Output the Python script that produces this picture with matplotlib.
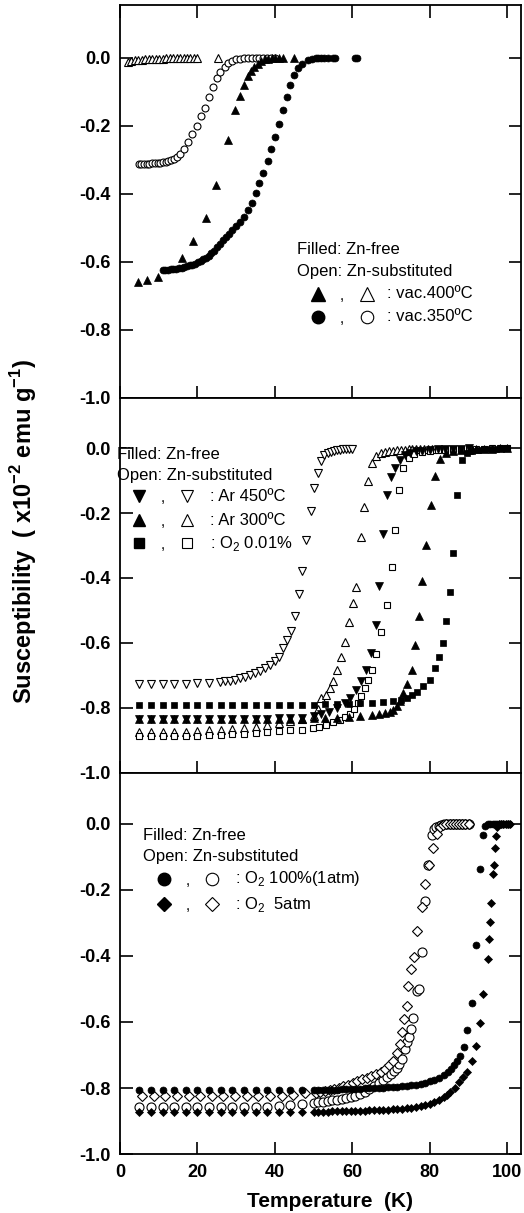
import matplotlib
matplotlib.use("Agg")
import matplotlib.pyplot as plt

plt.rcParams['font.family'] = ['Liberation Sans', 'DejaVu Sans']
plt.rcParams['mathtext.fontset'] = 'custom'
plt.rcParams['mathtext.rm'] = 'Liberation Sans'
plt.rcParams['mathtext.bf'] = 'Liberation Sans:bold'
plt.rcParams['axes.unicode_minus'] = False

# ---------------- top panel: vacuum annealed ----------------
t_tri_open_400 = [2.0, 2.9, 3.8, 4.7, 5.6, 6.5, 7.4, 8.3, 9.2, 10.1, 11.0, 11.9, 12.8, 13.7,
                  14.6, 15.5, 16.4, 17.3, 18.2, 19.1, 20.0, 25.2]
v_tri_open_400 = [-0.012, -0.010, -0.008, -0.007, -0.006, -0.005, -0.004, -0.004, -0.003, -0.003,
                  -0.003, -0.002, -0.002, -0.002, -0.002, -0.001, -0.001, -0.001, -0.001, -0.001,
                  -0.001, 0.0]

t_circ_open_350 = [4.8, 5.5, 6.2, 6.9, 7.6, 8.3, 9.0, 9.7, 10.4, 11.1, 11.8, 12.5, 13.2, 13.9, 14.6,
                   15.5, 16.5, 17.6, 18.7, 19.8, 20.9, 22.0, 23.0, 24.0, 25.0, 25.9, 27.0, 28.0, 29.0,
                   30.0, 31.0, 32.0, 33.0, 34.0, 35.0, 36.0, 37.0, 38.0, 39.0, 40.0]
v_circ_open_350 = [-0.313, -0.313, -0.313, -0.312, -0.312, -0.311, -0.311, -0.310, -0.309, -0.308,
                   -0.306, -0.304, -0.301, -0.297, -0.292, -0.284, -0.268, -0.248, -0.225, -0.200,
                   -0.172, -0.148, -0.115, -0.086, -0.060, -0.042, -0.027, -0.016, -0.009, -0.005,
                   -0.003, -0.002, -0.001, -0.001, -0.001, 0.0, 0.0, 0.0, 0.0, 0.0]

t_tri_fill_400 = [4.7, 7.0, 9.9, 16.0, 18.8, 22.1, 24.9, 27.8, 29.8, 30.9, 31.9, 33.0, 33.8, 34.7,
                  35.6, 36.5, 37.4, 38.3, 39.2, 40.1, 41.0, 42.0, 45.0]
v_tri_fill_400 = [-0.660, -0.653, -0.645, -0.590, -0.540, -0.470, -0.373, -0.241, -0.153, -0.112,
                  -0.080, -0.053, -0.040, -0.028, -0.018, -0.010, -0.005, -0.003, -0.001, 0.0,
                  0.0, 0.0, 0.0]

t_circ_fill_350 = [11.0, 11.7, 12.4, 13.1, 13.8, 14.5, 15.2, 15.9, 16.6, 17.3, 18.0, 18.7, 19.4,
                   20.1, 20.8, 21.5, 22.2, 22.9, 23.6, 24.3, 25.0, 25.8, 26.6, 27.4, 28.2, 29.0,
                   29.9, 30.9, 31.9, 33.0, 34.0, 35.0, 36.0, 37.0, 38.2, 39.1, 40.1, 41.0, 42.0,
                   43.0, 44.0, 45.0, 46.0, 47.0, 48.5, 49.7, 50.5, 51.2, 52.0, 52.8, 53.6, 55.0,
                   55.5, 60.8, 61.3]
v_circ_fill_350 = [-0.625, -0.624, -0.623, -0.622, -0.621, -0.620, -0.619, -0.617, -0.615, -0.613,
                   -0.611, -0.609, -0.606, -0.602, -0.598, -0.593, -0.588, -0.582, -0.575, -0.567,
                   -0.558, -0.548, -0.537, -0.528, -0.518, -0.508, -0.496, -0.484, -0.468, -0.449,
                   -0.427, -0.398, -0.369, -0.340, -0.305, -0.270, -0.232, -0.194, -0.153, -0.115,
                   -0.082, -0.050, -0.030, -0.018, -0.008, -0.003, -0.001, 0.0, 0.0, 0.0, 0.0, 0.0,
                   0.0, 0.0, 0.0]

# ---------------- middle panel: Ar / low O2 ----------------
t_plateau = [5, 8, 11, 14, 17, 20, 23, 26, 29, 32, 35, 38, 41, 44, 47]

t_dtri_open_450 = [5, 8, 11, 14, 17, 20, 23, 25.8, 27.1, 28.4, 29.7, 30.9, 32.2, 33.5, 34.8, 36.1,
                   37.4, 38.7, 39.9, 41.1, 42.1, 43.1, 44.1, 45.1, 46.2, 47.1, 48.1, 49.2, 50.1,
                   51.1, 52.0, 52.8, 53.6, 54.4, 55.2, 56.0, 56.8, 57.6, 58.4, 59.2, 60.0]
v_dtri_open_450 = [-0.727, -0.727, -0.726, -0.726, -0.726, -0.725, -0.724, -0.722, -0.719, -0.716,
                   -0.713, -0.709, -0.704, -0.699, -0.693, -0.686, -0.678, -0.668, -0.655, -0.642,
                   -0.616, -0.591, -0.563, -0.517, -0.450, -0.378, -0.283, -0.193, -0.124, -0.078,
                   -0.040, -0.022, -0.015, -0.011, -0.008, -0.006, -0.005, -0.004, -0.003, -0.002,
                   -0.002]

t_tri_open_300 = t_plateau + [50.0, 51.0, 52.0, 53.3, 54.1, 55.1, 56.0, 57.0, 58.2, 59.1, 60.1,
                              61.0, 62.1, 63.1, 64.0, 65.1, 66.1, 67.4, 68.5, 69.5, 70.5, 71.5,
                              72.5, 73.5, 74.5, 75.5, 76.5, 77.5, 78.5, 79.5, 80.5]
v_tri_open_300 = [-0.876, -0.876, -0.876, -0.875, -0.874, -0.872, -0.870, -0.868, -0.866, -0.862,
                  -0.858, -0.853, -0.848, -0.842, -0.836,
                  -0.825, -0.805, -0.770, -0.760, -0.739, -0.716, -0.683, -0.644, -0.597, -0.537,
                  -0.478, -0.429, -0.273, -0.180, -0.100, -0.047, -0.025, -0.015, -0.012, -0.010,
                  -0.008, -0.007, -0.006, -0.005, -0.004, -0.004, -0.003, -0.003, -0.002, -0.002,
                  -0.002]

t_sq_open = t_plateau + [49.8, 51.5, 53.3, 55.0, 56.7, 58.0, 59.3, 60.5, 61.5, 62.3, 63.2, 64.1,
                         65.0, 66.1, 67.3, 69.0, 70.2, 71.0, 72.1, 73.1, 74.5, 76.0, 78.0, 80.0,
                         82.0, 84.0, 86.0, 88.0, 90.0, 92.0, 94.0, 96.0, 98.0, 100.0]
v_sq_open = [-0.888, -0.888, -0.888, -0.888, -0.888, -0.887, -0.885, -0.884, -0.882, -0.880,
             -0.877, -0.875, -0.872, -0.870, -0.867,
             -0.863, -0.858, -0.852, -0.845, -0.837, -0.828, -0.818, -0.805, -0.785, -0.765,
             -0.739, -0.714, -0.683, -0.635, -0.565, -0.483, -0.365, -0.252, -0.129, -0.060,
             -0.030, -0.018, -0.012, -0.008, -0.006, -0.005, -0.004, -0.003, -0.003, -0.002,
             -0.002, -0.001, -0.001, -0.001]

t_dtri_fill_450 = t_plateau + [50.0, 52.0, 54.0, 56.0, 58.0, 59.5, 61.0, 62.3, 63.6, 64.9, 66.0,
                               67.0, 67.9, 69.0, 70.1, 71.0, 72.3, 73.6, 75.0, 76.5, 78.0, 80.0,
                               82.0, 84.0, 86.0, 88.0, 90.0]
v_dtri_fill_450 = [-0.834, -0.834, -0.834, -0.834, -0.834, -0.834, -0.834, -0.834, -0.834, -0.834,
                   -0.834, -0.834, -0.833, -0.832, -0.830,
                   -0.826, -0.820, -0.812, -0.800, -0.785, -0.770, -0.745, -0.719, -0.683, -0.632,
                   -0.545, -0.425, -0.263, -0.145, -0.088, -0.060, -0.035, -0.022, -0.015, -0.010,
                   -0.008, -0.006, -0.004, -0.003, -0.002, -0.002, -0.001]

t_tri_fill_300 = t_plateau + [50.0, 53.0, 56.0, 59.0, 62.0, 65.0, 67.0, 68.5, 69.7, 70.6, 71.5,
                              72.3, 73.1, 74.2, 75.3, 76.2, 77.3, 78.1, 79.1, 80.3, 81.3, 82.6,
                              84.3, 86.0, 88.0, 90.0, 92.0, 94.0, 96.0, 98.0, 100.0]
v_tri_fill_300 = [-0.834, -0.834, -0.834, -0.834, -0.834, -0.834, -0.834, -0.834, -0.834, -0.834,
                  -0.834, -0.834, -0.834, -0.834, -0.834,
                  -0.833, -0.832, -0.830, -0.828, -0.826, -0.823, -0.820, -0.816, -0.812, -0.806,
                  -0.795, -0.778, -0.755, -0.727, -0.683, -0.606, -0.517, -0.408, -0.298, -0.175,
                  -0.086, -0.032, -0.015, -0.010, -0.007, -0.005, -0.004, -0.003, -0.002, -0.001,
                  -0.001]

t_sq_fill = t_plateau + [50.0, 53.0, 56.0, 59.0, 62.0, 65.0, 68.0, 70.6, 72.5, 74.0, 75.3, 76.6,
                         78.3, 80.0, 81.3, 82.4, 83.3, 84.3, 85.2, 86.0, 87.1, 88.2, 89.5, 91.0,
                         92.5, 94.0, 95.5, 97.0, 98.5, 100.0]
v_sq_fill = [-0.791] * 15 + [-0.790, -0.789, -0.788, -0.787, -0.786, -0.785, -0.783, -0.780,
                             -0.776, -0.770, -0.762, -0.750, -0.734, -0.714, -0.678, -0.644,
                             -0.599, -0.534, -0.442, -0.324, -0.145, -0.035, -0.015, -0.008,
                             -0.005, -0.004, -0.003, -0.002, -0.001, -0.001]

# ---------------- bottom panel: O2 annealed ----------------
t_circ_fill_1atm = t_plateau + [50.0, 51.2, 52.4, 53.6, 54.8, 56.0, 57.2, 58.4, 59.6, 60.8, 62.0,
                                63.2, 64.4, 65.6, 66.8, 68.0, 69.2, 70.4, 71.6, 72.8, 74.0, 75.2,
                                76.4, 77.6, 78.8, 80.0, 81.2, 82.4, 83.6, 84.6, 85.5, 86.3, 87.1,
                                87.8, 88.8, 89.6, 90.9, 91.8, 93.0, 93.6, 94.3, 95.0, 95.6, 96.2,
                                96.8, 97.4, 98.0, 98.6, 99.2, 99.8, 100.4]
v_circ_fill_1atm = [-0.806] * 15 + [-0.806, -0.806, -0.806, -0.805, -0.805, -0.805, -0.804, -0.804,
                                    -0.803, -0.803, -0.802, -0.801, -0.801, -0.800, -0.799, -0.799,
                                    -0.798, -0.797, -0.796, -0.795, -0.794, -0.792, -0.790, -0.787,
                                    -0.784, -0.780, -0.775, -0.769, -0.762, -0.753, -0.743, -0.731,
                                    -0.717, -0.703, -0.677, -0.623, -0.542, -0.366, -0.136, -0.033,
                                    -0.005, 0.0, 0.0, 0.0, 0.0, 0.0, 0.0, 0.0, 0.0, 0.0, 0.0]

t_dia_fill_5atm = t_plateau + [50.0, 51.2, 52.4, 53.6, 54.8, 56.0, 57.2, 58.4, 59.6, 60.8, 62.0,
                               63.2, 64.4, 65.6, 66.8, 68.0, 69.2, 70.4, 71.6, 72.8, 74.0, 75.2,
                               76.4, 77.6, 78.8, 80.0, 81.2, 82.4, 83.6, 84.5, 85.3, 86.5, 87.5,
                               88.6, 89.6, 90.9, 91.8, 93.0, 93.8, 94.9, 95.3, 95.6, 95.9, 96.2,
                               96.6, 96.8, 97.0, 97.3, 97.8, 98.4, 99.0, 99.6, 100.2, 100.8]
v_dia_fill_5atm = [-0.872] * 15 + [-0.872, -0.872, -0.872, -0.872, -0.871, -0.871, -0.871, -0.871,
                                   -0.870, -0.870, -0.869, -0.869, -0.868, -0.868, -0.867, -0.867,
                                   -0.866, -0.865, -0.864, -0.863, -0.862, -0.860, -0.858, -0.855,
                                   -0.852, -0.848, -0.842, -0.836, -0.828, -0.821, -0.813, -0.800,
                                   -0.783, -0.768, -0.751, -0.719, -0.672, -0.604, -0.515, -0.409,
                                   -0.348, -0.296, -0.239, -0.152, -0.126, -0.074, -0.037, -0.010,
                                   0.0, 0.0, 0.0, 0.0, 0.0, 0.0]

t_circ_open_1atm = t_plateau + [50.0, 51.2, 52.4, 53.6, 54.8, 56.0, 57.2, 58.4, 59.6, 60.8, 62.0,
                                63.2, 64.4, 65.6, 66.8, 68.0, 69.0, 69.9, 70.7, 71.4, 72.1, 72.7,
                                73.5, 74.1, 74.7, 75.2, 75.7, 76.6, 77.3, 77.9, 78.8, 79.6, 80.5,
                                81.2, 81.7, 82.4, 83.0, 83.6, 84.4, 85.2, 86.0, 86.8, 87.6, 88.4,
                                89.2, 90.0]
v_circ_open_1atm = [-0.859] * 12 + [-0.853, -0.850, -0.848] + [
    -0.845, -0.843, -0.841, -0.839, -0.837, -0.835, -0.832, -0.829, -0.826, -0.823, -0.818,
    -0.811, -0.803, -0.795, -0.785, -0.775, -0.766, -0.758, -0.748, -0.740, -0.726, -0.712,
    -0.682, -0.660, -0.646, -0.620, -0.589, -0.505, -0.500, -0.387, -0.235, -0.124, -0.035,
    -0.015, -0.010, -0.005, -0.003, 0.0, 0.0, 0.0, 0.0, 0.0, 0.0, 0.0, 0.0, 0.0]

t_dia_open_5atm = [5.7, 8.7, 11.7, 14.7, 17.7, 20.7, 23.7, 26.7, 29.7, 32.7, 35.7, 38.7, 41.7, 44.7,
                   47.7, 50.5, 51.7, 52.9, 54.1, 55.3, 56.5, 57.7, 58.9, 60.1, 61.3, 62.5, 63.7,
                   64.9, 66.1, 67.3, 68.3, 69.4, 70.5, 71.4, 72.2, 72.8, 73.4, 74.0, 74.4, 75.2,
                   75.9, 76.8, 77.9, 78.8, 79.9, 80.9, 81.8, 82.7, 83.5, 84.3, 85.1, 85.9, 86.7,
                   87.5, 88.3, 89.1, 90.0]
v_dia_open_5atm = [-0.825] * 13 + [-0.820, -0.816] + [
    -0.815, -0.813, -0.810, -0.807, -0.804, -0.800, -0.795, -0.790, -0.785, -0.779, -0.774,
    -0.769, -0.764, -0.759, -0.750, -0.741, -0.730, -0.717, -0.695, -0.667, -0.631, -0.590,
    -0.551, -0.490, -0.440, -0.404, -0.323, -0.252, -0.182, -0.124, -0.074, -0.030, -0.010,
    -0.004, 0.0, 0.0, 0.0, 0.0, 0.0, 0.0, 0.0, 0.0]

yticks = [0.0, -0.2, -0.4, -0.6, -0.8, -1.0]
xticks = [0, 20, 40, 60, 80, 100]


def filled(ax, t, v, m, ms):
    ax.plot(t, v, ls='none', marker=m, ms=ms, mfc='k', mec='k', mew=0.5)


def hollow(ax, t, v, m, ms):
    ax.plot(t, v, ls='none', marker=m, ms=ms, mfc='white', mec='k', mew=0.8)


def legend_row(ax, x0, y, m, ms, label, dx):
    ax.plot([x0], [y], marker=m, ms=ms, mfc='k', mec='k', transform=ax.transAxes, clip_on=False)
    ax.text(x0 + dx[0], y - 0.005, ',', fontsize=11, ha='center', va='center', transform=ax.transAxes)
    ax.plot([x0 + dx[1]], [y], marker=m, ms=ms, mfc='white', mec='k', mew=0.8,
            transform=ax.transAxes, clip_on=False)
    ax.text(x0 + dx[2], y, label, fontsize=12, va='center', transform=ax.transAxes)


fig = plt.figure(figsize=(5.24, 12.13), dpi=100)
ax1 = fig.add_axes([0.229, 0.672, 0.765, 0.324])
ax2 = fig.add_axes([0.229, 0.363, 0.765, 0.309])
ax3 = fig.add_axes([0.229, 0.0486, 0.765, 0.3144])

# top
hollow(ax1, t_tri_open_400, v_tri_open_400, '^', 5.5)
hollow(ax1, t_circ_open_350, v_circ_open_350, 'o', 5)
filled(ax1, t_tri_fill_400, v_tri_fill_400, '^', 6)
filled(ax1, t_circ_fill_350, v_circ_fill_350, 'o', 5)
ax1.text(0.441, 0.377, 'Filled: Zn-free', fontsize=12, va='center', transform=ax1.transAxes)
ax1.text(0.441, 0.321, 'Open: Zn-substituted', fontsize=12, va='center', transform=ax1.transAxes)
legend_row(ax1, 0.494, 0.265, '^', 9.5, ': vac.400ºC', (0.06, 0.122, 0.172))
legend_row(ax1, 0.494, 0.206, 'o', 9, ': vac.350ºC', (0.06, 0.122, 0.172))

# middle
hollow(ax2, t_dtri_open_450, v_dtri_open_450, 'v', 5.5)
hollow(ax2, t_tri_open_300, v_tri_open_300, '^', 5.5)
hollow(ax2, t_sq_open, v_sq_open, 's', 5)
filled(ax2, t_dtri_fill_450, v_dtri_fill_450, 'v', 5.5)
filled(ax2, t_tri_fill_300, v_tri_fill_300, '^', 5.5)
filled(ax2, t_sq_fill, v_sq_fill, 's', 4.5)
ax2.text(-0.008, 0.85, 'Filled: Zn-free', fontsize=12, va='center', transform=ax2.transAxes)
ax2.text(-0.008, 0.794, 'Open: Zn-substituted', fontsize=12, va='center', transform=ax2.transAxes)
legend_row(ax2, 0.047, 0.738, 'v', 9, ': Ar 450ºC', (0.06, 0.12, 0.177))
legend_row(ax2, 0.047, 0.674, '^', 9, ': Ar 300ºC', (0.06, 0.12, 0.177))
legend_row(ax2, 0.047, 0.612, 's', 7.5, ': O$_2$ 0.01%', (0.06, 0.12, 0.177))

# bottom
hollow(ax3, t_circ_open_1atm, v_circ_open_1atm, 'o', 6.5)
hollow(ax3, t_dia_open_5atm, v_dia_open_5atm, 'D', 5.5)
filled(ax3, t_circ_fill_1atm, v_circ_fill_1atm, 'o', 5)
filled(ax3, t_dia_fill_5atm, v_dia_fill_5atm, 'D', 4.2)
ax3.text(0.057, 0.834, 'Filled: Zn-free', fontsize=12, va='center', transform=ax3.transAxes)
ax3.text(0.057, 0.779, 'Open: Zn-substituted', fontsize=12, va='center', transform=ax3.transAxes)
legend_row(ax3, 0.110, 0.722, 'o', 9, ': O$_2$ 100%(1atm)', (0.06, 0.119, 0.177))
legend_row(ax3, 0.110, 0.655, 'D', 7, ': O$_2$  5atm', (0.06, 0.119, 0.177))

for ax in (ax1, ax2, ax3):
    ax.set_xlim(0, 103.5)
    ax.set_ylim(-1.0, 0.155)
    ax.set_xticks(xticks)
    ax.set_yticks(yticks)
    ax.set_yticklabels(['%.1f' % y for y in yticks], fontsize=13, fontweight='bold')
    ax.tick_params(direction='in', length=9, width=1.2, right=True, pad=7)
    for s in ax.spines.values():
        s.set_linewidth(1.3)

ax1.tick_params(top=True)
ax1.set_xticklabels([])
ax2.set_xticklabels([])
ax3.set_xticklabels([str(x) for x in xticks], fontsize=13, fontweight='bold')
ax3.set_xlabel('Temperature  (K)', fontsize=15, fontweight='bold', labelpad=4)
ax3.xaxis.set_label_coords(0.524, -0.1)

fig.text(0.044, 0.562, r'Susceptibility  ( x10$^{\mathbf{-2}}$ emu g$^{\mathbf{-1}}$)',
         rotation=90, fontsize=17, fontweight='bold', ha='center', va='center')

fig.savefig('out.png', dpi=100)
